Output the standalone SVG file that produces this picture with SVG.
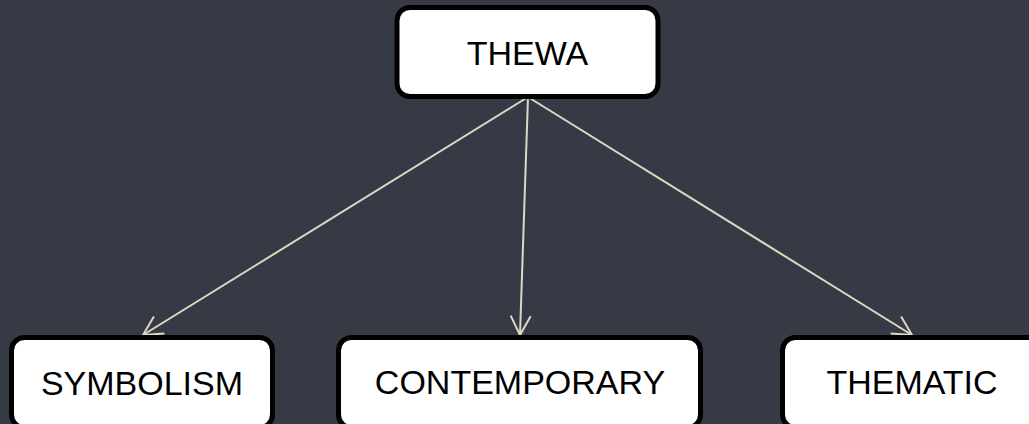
<svg xmlns="http://www.w3.org/2000/svg" width="1029" height="424" viewBox="0 0 1029 424">
<defs>
<marker id="arr" markerUnits="userSpaceOnUse" viewBox="-22 -13 25 26" markerWidth="25" markerHeight="26" refX="0" refY="0" orient="auto" overflow="visible">
<path d="M-19,-10 L0,0 L-19,10" fill="none" stroke="#dcd8c4" stroke-width="2"/>
</marker>
<style>
.node rect{fill:#ffffff;stroke:#000000;stroke-width:5}
.node text{font-family:"Liberation Sans",Arial,sans-serif;font-size:34px;fill:#000000;text-anchor:middle}
.edge{stroke:#dcd8c4;stroke-width:2;fill:none;marker-end:url(#arr)}
</style>
</defs>
<rect width="1029" height="424" fill="#363a44"/>
<g id="connectors">
<line class="edge" x1="528" y1="97" x2="143" y2="335"/>
<line class="edge" x1="528" y1="97" x2="520" y2="335"/>
<line class="edge" x1="528" y1="97" x2="912" y2="335"/>
</g>
<g id="THEWA" class="node">
<rect x="397" y="7.5" width="261" height="89" rx="13"/>
<text x="527.5" y="65">THEWA</text>
</g>
<g id="SYMBOLISM" class="node">
<rect x="11.5" y="337.5" width="261" height="90" rx="13"/>
<text x="142" y="395">SYMBOLISM</text>
</g>
<g id="CONTEMPORARY" class="node">
<rect x="338.5" y="337.5" width="362" height="90" rx="13"/>
<text x="520" y="394">CONTEMPORARY</text>
</g>
<g id="THEMATIC" class="node">
<rect x="782.5" y="337.5" width="261" height="90" rx="13"/>
<text x="912" y="394">THEMATIC</text>
</g>
</svg>
